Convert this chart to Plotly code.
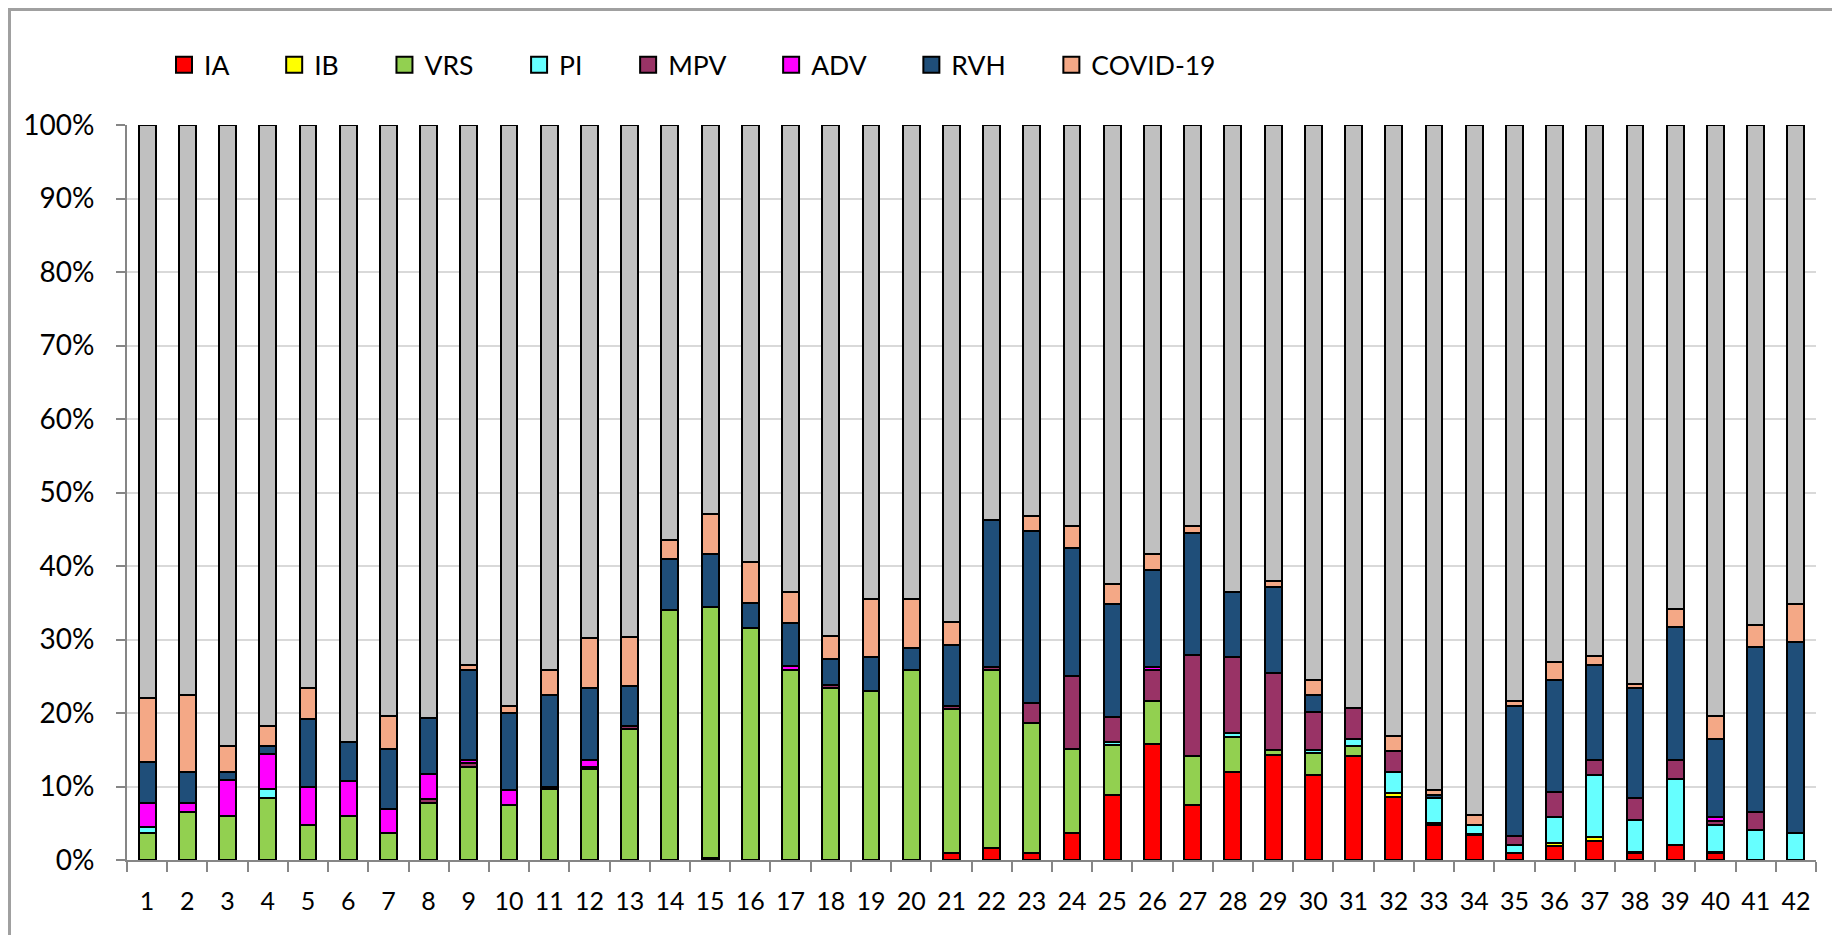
import plotly.graph_objects as go

weeks = [str(i) for i in range(1, 43)]

IA = [0, 0, 0, 0, 0, 0, 0, 0, 0, 0, 0, 0, 0, 0, 0.3, 0, 0, 0, 0, 0, 0.9, 1.6, 0.9, 3.7, 8.9, 15.8, 7.5,
      12.0, 14.3, 11.6, 14.1, 8.6, 4.8, 3.4, 0.9, 1.9, 2.6, 1.0, 2.0, 1.0, 0, 0]
IB = [0, 0, 0, 0, 0, 0, 0, 0, 0, 0, 0, 0, 0, 0, 0, 0, 0, 0, 0, 0, 0, 0, 0, 0, 0, 0, 0,
      0, 0, 0, 0, 0.5, 0.3, 0.2, 0, 0.4, 0.5, 0.1, 0, 0.1, 0, 0]
VRS = [3.7, 6.5, 6.0, 8.5, 4.8, 6.0, 3.7, 7.8, 12.7, 7.5, 9.7, 12.4, 17.8, 34.0, 34.1, 31.6, 25.8, 23.4,
       23.0, 25.8, 19.7, 24.2, 17.7, 11.4, 6.7, 5.8, 6.6, 4.7, 0.7, 2.9, 1.4, 0, 0, 0, 0, 0, 0, 0, 0, 0, 0, 0]
PI = [0.8, 0, 0, 1.1, 0, 0, 0, 0, 0, 0, 0, 0, 0, 0, 0, 0, 0, 0, 0, 0, 0, 0, 0, 0, 0.5, 0, 0,
      0.6, 0, 0.5, 1.0, 2.9, 3.4, 1.2, 1.1, 3.5, 8.5, 4.4, 9.0, 3.7, 4.1, 3.7]
MPV = [0, 0, 0, 0, 0, 0, 0, 0.5, 0.5, 0, 0.3, 0.3, 0.5, 0, 0, 0, 0, 0.4, 0, 0, 0.4, 0.4, 2.7, 10.0, 3.4, 4.2, 13.8,
       10.3, 10.5, 5.2, 4.2, 2.8, 0, 0, 1.2, 3.4, 2.0, 3.0, 2.6, 0.5, 2.4, 0]
ADV = [3.3, 1.3, 4.9, 4.8, 5.2, 4.7, 3.2, 3.4, 0.4, 2.0, 0, 0.9, 0, 0, 0, 0, 0.6, 0, 0, 0, 0, 0, 0, 0, 0, 0.4, 0,
       0, 0, 0, 0, 0, 0, 0, 0, 0, 0, 0, 0, 0.5, 0, 0]
RVH = [5.6, 4.2, 1.1, 1.1, 9.2, 5.4, 8.2, 7.6, 12.2, 10.5, 12.5, 9.8, 5.4, 6.9, 7.2, 3.3, 5.9, 3.5, 4.6, 3.1, 8.2,
       20.0, 23.4, 17.3, 15.3, 13.3, 16.6, 8.9, 11.7, 2.2, 0, 0, 0.4, 0, 17.8, 15.3, 12.9, 14.9, 18.1, 10.7, 22.5, 25.9]
COVID = [8.6, 10.4, 3.5, 2.8, 4.2, 0, 4.5, 0, 0.7, 1.0, 3.4, 6.8, 6.7, 2.6, 5.5, 5.7, 4.2, 3.2, 7.9, 6.6, 3.2, 0,
         2.1, 3.1, 2.7, 2.1, 1.0, 0, 0.7, 2.1, 0, 2.1, 0.6, 1.3, 0.7, 2.4, 1.3, 0.5, 2.4, 3.1, 3.0, 5.2]
NEG = [78.0, 77.6, 84.5, 81.7, 76.6, 83.9, 80.4, 80.7, 73.5, 79.0, 74.1, 69.8, 69.6, 56.5, 52.9, 59.4, 63.5, 69.5,
       64.5, 64.5, 67.6, 53.8, 53.2, 54.5, 62.5, 58.4, 54.5, 63.5, 62.1, 75.5, 79.3, 83.1, 90.5, 93.9, 78.3, 73.1,
       72.2, 76.1, 65.9, 80.4, 68.0, 65.2]

series = [
    ("IA", IA, "#FF0000"),
    ("IB", IB, "#FFFF00"),
    ("VRS", VRS, "#92D050"),
    ("PI", PI, "#66FFFF"),
    ("MPV", MPV, "#993366"),
    ("ADV", ADV, "#FF00FF"),
    ("RVH", RVH, "#1F4E79"),
    ("COVID-19", COVID, "#F4A886"),
]

FONT = "Lato"
PAD = "\u00a0" * 6

fig = go.Figure()
for name, vals, col in series:
    fig.add_trace(go.Bar(x=weeks, y=vals, name=name, marker=dict(color=col, line=dict(color="black", width=2)),
                         showlegend=False, legendgroup=name))
fig.add_trace(go.Bar(x=weeks, y=NEG, name="Negativo", marker=dict(color="#C0C0C0", line=dict(color="black", width=2)),
                     showlegend=False))

# legend entries
for name, vals, col in series:
    fig.add_trace(go.Scatter(x=[None], y=[None], mode="markers", name=name + PAD, legendgroup=name,
                             marker=dict(symbol="square", size=16, color=col, line=dict(color="black", width=2))))

# page body has an 8px margin, so figure coordinates = page coordinates - 8
W, H = 1832, 927
L, T, B = 119, 117, 75
pw = 1689
ph = H - T - B
R = W - L - pw

def px(x):
    return (x - L) / pw

def py(y):
    return (H - B - y) / ph

fig.update_layout(
    width=W, height=H,
    margin=dict(l=L, r=R, t=T, b=B, autoexpand=False),
    barmode="stack", bargap=0.58,
    plot_bgcolor="white", paper_bgcolor="white",
    font=dict(family=FONT, size=28, color="black"),
    legend=dict(orientation="h", x=px(156), xanchor="left", y=py(57), yanchor="middle",
                font=dict(family=FONT, size=26.5, color="black"), itemsizing="trace",
                bgcolor="rgba(0,0,0,0)", traceorder="normal"),
    xaxis=dict(type="category", showline=True, linecolor="#868686", linewidth=2,
               ticks="outside", tickson="boundaries", ticklen=10, tickwidth=2, tickcolor="#868686",
               tickfont=dict(family=FONT, size=25), ticklabelstandoff=18, showgrid=False),
    yaxis=dict(range=[0, 100], dtick=10, ticksuffix="%", showline=True, linecolor="#868686", linewidth=2,
               ticks="outside", ticklen=9, tickwidth=2, tickcolor="#868686",
               tickfont=dict(family=FONT, size=28), ticklabelstandoff=16,
               showgrid=True, gridcolor="#D9D9D9", gridwidth=2, zeroline=False),
    shapes=[
        dict(type="line", xref="paper", yref="paper", x0=px(0), x1=px(W), y0=py(1.5), y1=py(1.5),
             line=dict(color="#A0A0A0", width=3)),
        dict(type="line", xref="paper", yref="paper", x0=px(1.5), x1=px(1.5), y0=py(0), y1=py(H),
             line=dict(color="#A0A0A0", width=3)),
    ],
)

fig.write_html("out.html")
